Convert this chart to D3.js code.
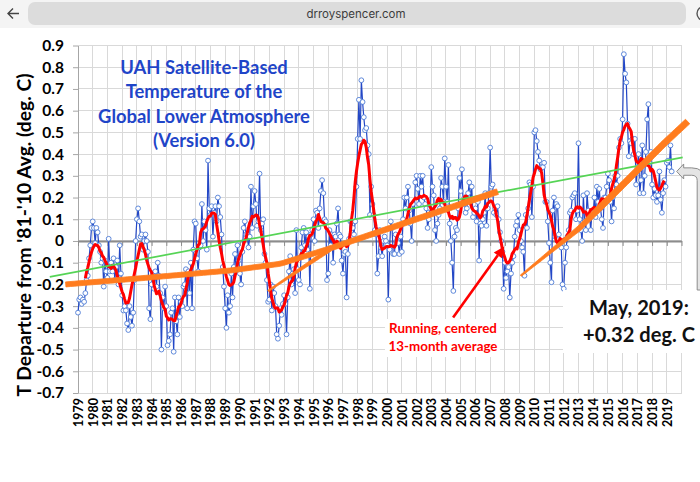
<!DOCTYPE html>
<html><head><meta charset="utf-8">
<script src="https://cdn.jsdelivr.net/npm/d3@7"></script>
<style>
html,body{margin:0;padding:0;background:#fff;}
svg{display:block;font-family:Lato,"Open Sans",sans-serif;}
</style></head><body>
<svg id="chart" width="700" height="482"></svg>
<script>
// ---------------- DATA ----------------
const yearLabels = d3.range(1979, 2020).map(String);          // x tick labels
const yTickValues = d3.range(9, -8, -1).map(k => k / 10);      // 0.9 ... -0.7
const yTickLabels = yTickValues.map(v => v === 0 ? "0" : v.toFixed(1));

// UAH v6.0 global lower troposphere, monthly anomaly (deg C), Jan 1979 - May 2019
const monthlyAnomaly = [
-0.33,-0.27,-0.26,-0.29,-0.27,-0.28,-0.24,-0.18,-0.16,-0.08,-0.02,0.06,   // 1979
0.09,0.06,-0.01,0.06,0.04,-0.02,-0.05,-0.10,-0.08,-0.21,-0.09,-0.14,      // 1980
-0.17,0.01,-0.14,-0.10,-0.14,-0.08,-0.18,-0.12,-0.09,-0.20,-0.02,-0.15,   // 1981
-0.25,-0.32,-0.30,-0.32,-0.38,-0.41,-0.30,-0.35,-0.39,-0.33,-0.18,0.00,   // 1982
0.10,0.15,0.09,0.02,0.03,-0.04,0.00,0.03,0.00,-0.05,-0.31,-0.36,          // 1983
-0.20,-0.15,-0.22,-0.14,-0.21,-0.10,-0.16,-0.24,-0.50,-0.26,-0.31,-0.21,  // 1984
-0.30,-0.48,-0.46,-0.43,-0.33,-0.31,-0.51,-0.26,-0.37,-0.43,-0.26,-0.35,  // 1985
-0.28,-0.30,-0.21,-0.20,-0.13,-0.31,-0.14,-0.24,-0.10,-0.31,-0.04,0.09,   // 1986
0.08,-0.08,-0.14,-0.03,-0.02,0.17,0.00,0.09,0.05,-0.04,0.37,0.15,         // 1987
0.12,0.16,0.02,0.13,0.16,0.09,0.20,0.16,0.11,0.03,-0.12,-0.21,            // 1988
-0.31,-0.40,-0.25,-0.33,-0.30,-0.15,-0.26,-0.12,-0.06,-0.13,-0.02,-0.09,  // 1989
-0.15,-0.20,-0.05,0.06,0.09,0.03,0.03,-0.03,0.02,0.25,0.06,0.16,          // 1990
0.23,0.17,0.07,0.09,0.31,0.05,0.08,0.10,-0.06,-0.10,-0.18,-0.28,          // 1991
-0.27,-0.20,-0.32,-0.21,-0.24,-0.30,-0.43,-0.45,-0.39,-0.31,-0.34,-0.29,  // 1992
-0.25,-0.29,-0.43,-0.26,-0.14,-0.07,-0.20,-0.15,-0.13,-0.24,0.05,-0.13,   // 1993
-0.18,-0.20,-0.03,0.04,0.06,-0.02,0.04,-0.04,0.02,-0.22,0.03,0.05,        // 1994
0.10,0.00,0.14,0.13,0.06,0.15,0.23,0.28,0.22,0.10,0.09,-0.18,             // 1995
-0.15,0.05,-0.02,0.03,-0.10,0.03,0.02,0.08,0.15,0.03,0.02,-0.09,          // 1996
-0.15,-0.06,-0.05,-0.26,-0.06,0.01,0.09,0.09,0.06,0.03,0.09,0.25,         // 1997
0.47,0.65,0.47,0.74,0.64,0.57,0.51,0.52,0.44,0.40,0.12,0.25,              // 1998
0.17,0.12,0.05,0.03,-0.15,-0.07,0.05,-0.03,-0.07,0.00,0.02,0.00,          // 1999
-0.02,-0.27,-0.04,0.09,0.06,-0.06,-0.06,0.03,0.00,-0.01,-0.06,0.02,       // 2000
-0.05,0.10,0.20,0.15,0.20,0.25,0.14,0.08,0.00,0.17,0.10,0.27,             // 2001
0.30,0.24,0.17,0.30,0.25,0.30,0.20,0.17,0.15,0.06,0.10,0.15,              // 2002
0.34,0.25,0.21,0.05,0.00,0.08,0.12,0.15,0.29,0.25,0.18,0.38,              // 2003
0.25,0.18,0.35,0.08,0.00,-0.10,-0.23,0.02,0.06,0.05,0.15,0.29,            // 2004
0.23,0.33,0.17,0.20,0.13,0.15,0.22,0.27,0.19,0.25,0.11,0.13,              // 2005
0.15,0.09,0.18,-0.09,0.08,0.07,0.10,0.13,0.22,0.07,0.15,0.22,             // 2006
0.43,0.25,0.26,0.13,0.15,0.12,0.16,0.10,0.04,0.00,-0.05,-0.22,            // 2007
-0.10,-0.17,-0.14,-0.12,-0.26,-0.15,-0.10,-0.07,0.02,0.07,0.09,0.12,      // 2008
0.05,0.00,-0.03,-0.05,-0.16,0.12,0.06,0.15,0.27,0.26,0.11,0.25,           // 2009
0.50,0.51,0.46,0.41,0.37,0.33,0.34,0.34,0.36,0.18,0.18,0.09,              // 2010
-0.01,-0.10,-0.19,0.14,0.20,0.02,0.17,0.16,0.03,-0.01,-0.03,-0.20,        // 2011
-0.22,-0.10,-0.03,0.02,0.05,0.13,0.14,0.20,0.21,0.22,0.10,0.14,           // 2012
0.45,0.10,0.05,0.00,0.21,0.09,0.05,0.22,0.14,0.12,0.05,0.13,              // 2013
0.13,0.20,0.11,0.25,0.18,0.24,0.15,0.10,0.06,0.20,0.20,0.25,              // 2014
0.31,0.28,0.18,0.09,0.20,0.15,0.30,0.26,0.30,0.43,0.47,0.45,              // 2015
0.56,0.86,0.77,0.73,0.54,0.39,0.46,0.45,0.47,0.40,0.47,0.26,              // 2016
0.34,0.40,0.22,0.28,0.44,0.22,0.30,0.41,0.56,0.63,0.36,0.41,              // 2017
0.26,0.20,0.24,0.21,0.18,0.21,0.32,0.19,0.13,0.22,0.28,0.25,              // 2018
0.36,0.37,0.34,0.44,0.32                                                   // 2019
];

// annotation lines, [month index from Jan 1979, value]
const trendLine   = [[-23,-0.165],[493,0.385]];
const orangeFlat  = [[-10,-0.200],[59,-0.168],[124,-0.136],[165,-0.105],[205,-0.035]];
const orangeRise1 = [[205,-0.035],[342,0.227]];
const orangeThin1 = [[155,-0.230],[205,-0.040]];
const orangeRise2 = [[361,-0.160],[409,0.060],[478,0.450],[497,0.550]];
const redArrow    = [[305.8,-0.352],[347.5,-0.025]];

const titleLines = ["UAH Satellite-Based","Temperature of the","Global Lower Atmosphere","(Version 6.0)"];
const noteLines  = ["Running, centered","13-month average"];
const latestLines = ["May, 2019:","+0.32 deg. C"];
const yTitle = "T Departure from '81-'10 Avg. (deg. C)";

// ---------------- DRAW ----------------
const svg = d3.select("#chart");
const FONT = "Lato, 'Open Sans', sans-serif";
const x = d3.scaleLinear().domain([0, 492]).range([78, 681.5]);
const y = d3.scaleLinear().domain([-0.7, 0.9]).range([393, 45.5]);

function fit(sel, target){
  const w = sel.node().getComputedTextLength();
  const fs = parseFloat(sel.attr("font-size"));
  sel.attr("font-size", fs * target / w);
  return fs * target / w;
}

// browser bar
const bar = svg.append("g");
bar.append("rect").attr("width",700).attr("height",28).attr("fill","#f4f4f4");
bar.append("rect").attr("x",28).attr("y",2).attr("width",658).attr("height",23).attr("rx",7).attr("fill","#dcdcdc");
bar.append("text").attr("x",356).attr("y",13.5).attr("text-anchor","middle").attr("dominant-baseline","central")
  .attr("font-family","Inter, 'Noto Sans', sans-serif").attr("font-size",11.5).attr("fill","#3c3c3c").text("drroyspencer.com");
bar.append("path").attr("d","M19,13.5 H8 M13,8.5 L8,13.5 L13,18.5").attr("stroke","#444").attr("stroke-width",1.4).attr("fill","none");
bar.append("circle").attr("cx",704).attr("cy",13.5).attr("r",7).attr("stroke","#555").attr("stroke-width",1.4).attr("fill","none");

// grid
const grid = svg.append("g").attr("shape-rendering","crispEdges");
grid.selectAll("line.h").data(yTickValues).join("line").attr("class","h")
  .attr("x1",x(0)).attr("x2",x(492)).attr("y1",d=>y(d)).attr("y2",d=>y(d)).attr("stroke","#d9d9d9");
grid.selectAll("line.v").data(d3.range(12, 493, 12)).join("line").attr("class","v")
  .attr("x1",d=>x(d)).attr("x2",d=>x(d)).attr("y1",y(0.9)).attr("y2",y(-0.7)).attr("stroke","#d9d9d9");

// y axis
const yAxis = svg.append("g").attr("transform",`translate(${x(0)},0)`)
  .call(d3.axisLeft(y).tickValues(yTickValues).tickFormat((d,i)=>yTickLabels[i]).tickSize(5).tickSizeOuter(0).tickPadding(9));
yAxis.select(".domain").attr("stroke","#a6a6a6");
yAxis.selectAll(".tick line").attr("stroke","#a6a6a6");
yAxis.selectAll("text").attr("font-size",15.5).attr("font-weight","bold").attr("fill","#000").attr("font-family",FONT);

// zero axis with ticks
const zAxis = svg.append("g").attr("transform",`translate(0,${y(0)})`)
  .call(d3.axisBottom(x).tickValues(d3.range(0,493,12)).tickFormat("").tickSize(5).tickSizeOuter(0));
zAxis.select(".domain").attr("stroke","#8c8c8c").attr("stroke-width",2);
zAxis.selectAll(".tick line").attr("stroke","#8c8c8c");

// year labels
const xAxis = svg.append("g").attr("transform",`translate(0,${y(-0.7)})`)
  .call(d3.axisBottom(x).tickValues(d3.range(0,481,12)).tickFormat((d,i)=>yearLabels[i]).tickSize(0).tickSizeOuter(0));
xAxis.select(".domain").remove();
xAxis.selectAll("text").attr("transform","rotate(-90)").attr("x",-5).attr("y",0).attr("dy",null)
  .attr("text-anchor","end").attr("dominant-baseline","central")
  .attr("font-size",12.5).attr("font-weight","bold").attr("fill","#000").attr("font-family",FONT);

// y title
const yt = svg.append("text").attr("transform","translate(23,235) rotate(-90)").attr("text-anchor","middle")
  .attr("dominant-baseline","central").attr("font-family",FONT).attr("font-weight","bold").attr("font-size",17).attr("fill","#000").text(yTitle);
fit(yt, 323);

// blue monthly series
svg.append("path").datum(monthlyAnomaly)
  .attr("d", d3.line().x((d,i)=>x(i)).y(d=>y(d)))
  .attr("fill","none").attr("stroke","#2347c6").attr("stroke-width",1.2);
svg.append("g").selectAll("circle").data(monthlyAnomaly).join("circle")
  .attr("cx",(d,i)=>x(i)).attr("cy",d=>y(d)).attr("r",2.4)
  .attr("fill","#fff").attr("stroke","#4f7dd6").attr("stroke-width",0.9);

// red running 13-month centered average
const running = d3.range(6, monthlyAnomaly.length-6).map(m => [m, d3.mean(monthlyAnomaly.slice(m-6, m+7))]);
svg.append("path").datum(running)
  .attr("d", d3.line().x(d=>x(d[0])).y(d=>y(d[1])))
  .attr("fill","none").attr("stroke","#ff0000").attr("stroke-width",3).attr("stroke-linejoin","round");

// green trend
svg.append("path").datum(trendLine).attr("d", d3.line().x(d=>x(d[0])).y(d=>y(d[1])))
  .attr("stroke","#55d455").attr("stroke-width",1.7).attr("fill","none");

// orange ribbons
function ribbon(pts, wfun){
  const P = pts.map(d=>[x(d[0]), y(d[1])]);
  const seg = []; let tot = 0;
  for(let i=1;i<P.length;i++){ const l = Math.hypot(P[i][0]-P[i-1][0], P[i][1]-P[i-1][1]); seg.push(l); tot += l; }
  const N = 60, S = [];
  for(let k=0;k<=N;k++){
    let dist = tot*k/N, i = 0;
    while(i < seg.length-1 && dist > seg[i]){ dist -= seg[i]; i++; }
    const t = Math.min(1, dist/seg[i]);
    S.push([P[i][0]+(P[i+1][0]-P[i][0])*t, P[i][1]+(P[i+1][1]-P[i][1])*t, k/N]);
  }
  const L = [], R = [];
  S.forEach((p,i)=>{
    const a = S[Math.max(0,i-1)], b = S[Math.min(S.length-1,i+1)];
    const dx = b[0]-a[0], dy = b[1]-a[1], len = Math.hypot(dx,dy) || 1;
    const nx = -dy/len, ny = dx/len, w = wfun(p[2])/2;
    L.push([p[0]+nx*w, p[1]+ny*w]); R.push([p[0]-nx*w, p[1]-ny*w]);
  });
  return "M" + L.concat(R.reverse()).map(p=>p[0].toFixed(2)+","+p[1].toFixed(2)).join("L") + "Z";
}
const ORANGE = "#ff7c1e";
const og = svg.append("g").attr("fill",ORANGE).attr("stroke",ORANGE).attr("stroke-width",0.8).attr("stroke-linejoin","round");
og.append("path").attr("d", ribbon(orangeFlat, t=>5));
og.append("path").attr("d", ribbon(orangeThin1, t=>1.5+2.8*t));
og.append("path").attr("d", ribbon(orangeRise1, t=>5.2+0.6*t));
og.append("path").attr("d", ribbon(orangeRise2, t=>Math.min(6.2, 1.6+4.6*Math.min(1,t/0.45))));

// white box behind note text and latest-value text
svg.append("rect").attr("x",385).attr("y",319).attr("width",115).attr("height",38).attr("fill","#fff");
svg.append("rect").attr("x",563).attr("y",290).attr("width",137).attr("height",63).attr("fill","#fff");

// red arrow
const a0 = [x(redArrow[0][0]), y(redArrow[0][1])], a1 = [x(redArrow[1][0]), y(redArrow[1][1])];
const ang = Math.atan2(a1[1]-a0[1], a1[0]-a0[0]);
const hl = 11, hw = 5;
const base = [a1[0]-hl*Math.cos(ang), a1[1]-hl*Math.sin(ang)];
svg.append("line").attr("x1",a0[0]).attr("y1",a0[1]).attr("x2",base[0]).attr("y2",base[1])
  .attr("stroke","#ff0000").attr("stroke-width",2.6);
svg.append("path").attr("d",`M${a1[0]},${a1[1]}L${base[0]-hw*Math.sin(ang)},${base[1]+hw*Math.cos(ang)}L${base[0]+hw*Math.sin(ang)},${base[1]-hw*Math.cos(ang)}Z`)
  .attr("fill","#ff0000");

// gray callout arrow pointing to latest value
const lastI = monthlyAnomaly.length-1;
const tx = x(lastI)+5, ty = y(monthlyAnomaly[lastI]);
svg.append("path").attr("d",
  `M${tx},${ty} L${tx+7},${ty-7.5} L${tx+7},${ty-3.6} L${tx+15},${ty-3.6} Q${tx+28},${ty-3.6} ${tx+28},${ty+9} L${tx+28},290 L${tx+20.5},290 L${tx+20.5},${ty+9} Q${tx+20.5},${ty+3.8} ${tx+15},${ty+3.8} L${tx+7},${ty+3.8} L${tx+7},${ty+7.5} Z`)
  .attr("fill","#e4e4e4").attr("stroke","#8c8c8c").attr("stroke-width",1);

// title
const tg = svg.append("g").attr("font-family",FONT).attr("font-weight","bold").attr("fill","#1f45c8").attr("text-anchor","middle");
const tl = tg.selectAll("text").data(titleLines).join("text").attr("x",204).attr("y",(d,i)=>73.5+24.5*i).attr("font-size",18).text(d=>d);
const tfs = fit(d3.select(tl.nodes()[2]), 212);
tl.attr("font-size", tfs);

// note text
const ng = svg.append("g").attr("font-family",FONT).attr("font-weight","bold").attr("fill","#ff0000").attr("text-anchor","middle");
const nl = ng.selectAll("text").data(noteLines).join("text").attr("x",443).attr("y",(d,i)=>333+18*i).attr("font-size",13).text(d=>d);
const nfs = fit(d3.select(nl.nodes()[0]), 108);
nl.attr("font-size", nfs);

// latest value text
const lg = svg.append("g").attr("font-family",FONT).attr("font-weight","bold").attr("fill","#111").attr("text-anchor","middle");
const ll = lg.selectAll("text").data(latestLines).join("text").attr("x",639).attr("y",(d,i)=>315+27*i).attr("font-size",20).text(d=>d);
const lfs = fit(d3.select(ll.nodes()[1]), 112);
ll.attr("font-size", lfs);
</script>
</body></html>
